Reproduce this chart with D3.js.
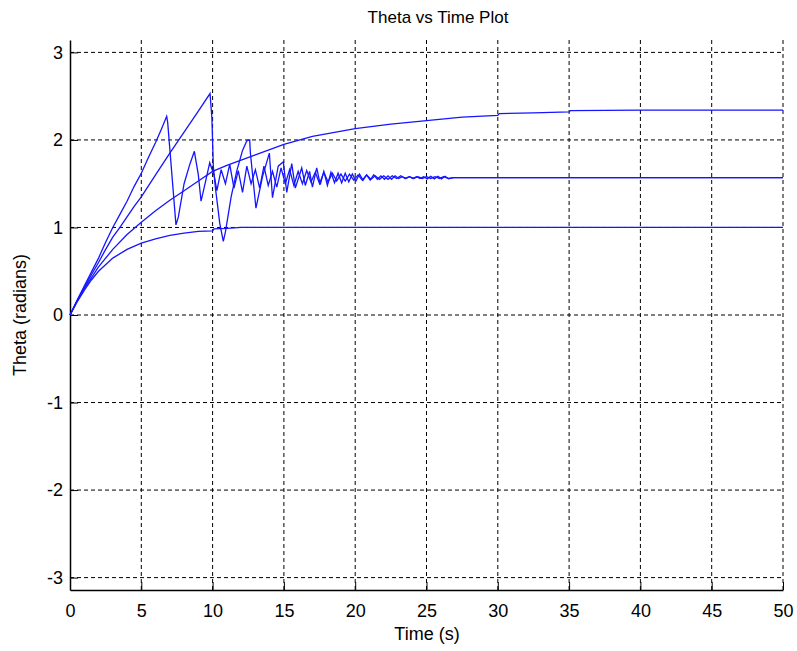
<!DOCTYPE html>
<html>
<head>
<meta charset="utf-8">
<script src="https://cdn.jsdelivr.net/npm/d3@7"></script>
<style>
  body { margin: 0; background: #fff; }
  svg { display: block; font-family: "Liberation Sans", Arial, sans-serif; }
  .grid line { stroke: #000; stroke-dasharray: 4,3; stroke-width: 1; }
  .axis path, .axis line { stroke: #000; }
  .axis text { font-size: 18px; fill: #000; }
  .curve { fill: none; stroke: #1515ff; stroke-width: 1.3; }
</style>
</head>
<body>
<div id="chart"></div>
<script>
// tick values
const xTicks = [0, 5, 10, 15, 20, 25, 30, 35, 40, 45, 50];
const yTicks = [-3, -2, -1, 0, 1, 2, 3];

// [time, theta] pairs
const settleToOne = [
  [0, 0], [0.5, 0.15], [1, 0.28], [1.5, 0.4], [2, 0.5], [3, 0.65], [4, 0.75], [5, 0.82],
  [6, 0.87], [7, 0.91], [8, 0.935], [9, 0.955], [10, 0.96], [10.1, 0.985], [11, 0.99],
  [12, 1.0], [50, 1.0]
];

const settleHigh = [
  [0, 0], [0.5, 0.16], [1, 0.3], [2, 0.55], [3, 0.75], [4, 0.92], [5, 1.06], [6, 1.19],
  [7, 1.31], [8, 1.42], [9, 1.53], [10, 1.64], [11, 1.71], [12, 1.77], [13, 1.83],
  [14, 1.89], [15, 1.95], [17, 2.04], [20, 2.13], [22.5, 2.18], [25, 2.22], [27.5, 2.26],
  [30, 2.28], [30.1, 2.3], [32.5, 2.31], [35, 2.32], [35.1, 2.335], [40, 2.34], [50, 2.34]
];

const swingA = [
  [0, 0], [0.5, 0.17], [1, 0.33], [1.5, 0.49], [2, 0.65], [2.5, 0.83], [3, 1.0], [3.5, 1.15],
  [4, 1.3], [4.5, 1.47], [5, 1.62], [5.5, 1.8], [6, 1.97], [6.4, 2.12], [6.78, 2.27],
  [6.85, 2.2], [7.43, 1.03], [7.6, 1.12], [8.0, 1.5], [8.4, 1.72], [8.72, 1.87], [9.0, 1.6],
  [9.19, 1.3], [9.5, 1.52], [9.8, 1.74], [10.1, 1.6], [10.3, 1.42], [10.6, 1.66], [10.9, 1.5],
  [11.2, 1.72], [11.5, 1.45], [11.8, 1.65], [12.1, 1.4], [12.4, 1.7], [12.7, 1.5], [13.0, 1.66],
  [13.3, 1.45], [13.6, 1.7], [13.9, 1.48], [14.2, 1.64], [14.5, 1.46], [14.8, 1.68], [15.1, 1.5],
  [15.4, 1.66], [15.7, 1.48], [16.0, 1.64], [16.3, 1.5], [16.6, 1.65], [16.9, 1.52], [17.2, 1.63],
  [17.5, 1.5], [17.8, 1.63], [18.1, 1.52], [18.4, 1.62], [18.7, 1.53], [19.0, 1.61], [19.3, 1.53],
  [19.6, 1.61], [19.9, 1.54], [20.2, 1.6], [20.5, 1.54], [20.8, 1.6], [21.1, 1.55], [21.4, 1.59],
  [21.7, 1.55], [22.0, 1.59], [22.3, 1.55], [22.6, 1.59], [22.9, 1.56], [23.2, 1.59], [23.5, 1.56],
  [23.8, 1.58], [24.1, 1.56], [24.4, 1.58], [24.7, 1.56], [25.0, 1.58], [25.3, 1.56], [25.6, 1.58],
  [25.9, 1.56], [26.2, 1.58], [26.5, 1.56], [26.9, 1.57], [50, 1.57]
];

const swingB = [
  [0, 0], [0.5, 0.16], [1, 0.31], [1.5, 0.46], [2, 0.6], [2.5, 0.75], [3, 0.89], [3.5, 1.0],
  [4, 1.12], [4.5, 1.24], [5, 1.35], [6, 1.6], [7, 1.85], [8, 2.09], [9, 2.33], [9.82, 2.53],
  [9.95, 2.25], [10.05, 1.7], [10.2, 1.45], [10.5, 1.05], [10.75, 0.84], [10.9, 0.95],
  [11.3, 1.35], [11.7, 1.65], [12.1, 1.88], [12.4, 1.99], [12.6, 2.0], [12.65, 1.85],
  [13.04, 1.22], [13.5, 1.58], [13.98, 1.85], [14.2, 1.34], [14.6, 1.7], [14.96, 1.75],
  [15.2, 1.4], [15.55, 1.73], [15.8, 1.45], [16.25, 1.68], [16.5, 1.48], [16.8, 1.64],
  [17.0, 1.46], [17.3, 1.68], [17.55, 1.49], [17.8, 1.64], [18.05, 1.48], [18.3, 1.63],
  [18.55, 1.51], [18.8, 1.62], [19.05, 1.51], [19.3, 1.62], [19.55, 1.52], [19.8, 1.61],
  [20.05, 1.53], [20.3, 1.61], [20.55, 1.54], [20.8, 1.6], [21.05, 1.54], [21.3, 1.6],
  [21.55, 1.55], [21.8, 1.59], [22.05, 1.55], [22.3, 1.59], [22.55, 1.55], [22.8, 1.59],
  [23.05, 1.56], [23.3, 1.58], [23.55, 1.56], [23.8, 1.58], [24.05, 1.56], [24.3, 1.58],
  [24.55, 1.56], [24.8, 1.58], [25.05, 1.555], [25.3, 1.585], [25.55, 1.555], [25.8, 1.585],
  [26.05, 1.555], [26.3, 1.585], [26.55, 1.555], [26.9, 1.57], [50, 1.57]
];

const series = [settleToOne, settleHigh, swingA, swingB];

const width = 797, height = 651;
const margin = { top: 40, right: 14, bottom: 61, left: 70 };

const svg = d3.select("#chart").append("svg")
  .attr("width", width)
  .attr("height", height);

const x = d3.scaleLinear().domain([0, 50]).range([margin.left, width - margin.right]);
const y = d3.scaleLinear().domain([-Math.PI, Math.PI]).range([height - margin.bottom, margin.top]);

// dashed grid
svg.append("g").attr("class", "grid")
  .selectAll("line.v").data(xTicks.filter(d => d > 0)).enter().append("line")
  .attr("x1", d => x(d)).attr("x2", d => x(d))
  .attr("y1", y.range()[0]).attr("y2", y.range()[1]);

svg.append("g").attr("class", "grid")
  .selectAll("line.h").data(yTicks).enter().append("line")
  .attr("x1", x.range()[0]).attr("x2", x.range()[1])
  .attr("y1", d => y(d)).attr("y2", d => y(d));

// axes, ticks pointing inward
svg.append("g").attr("class", "axis")
  .attr("transform", `translate(0,${y.range()[0]})`)
  .call(d3.axisBottom(x).tickValues(xTicks).tickSizeInner(-8).tickSizeOuter(0).tickPadding(14));

svg.append("g").attr("class", "axis")
  .attr("transform", `translate(${x.range()[0]},0)`)
  .call(d3.axisLeft(y).tickValues(yTicks).tickSizeInner(-8).tickSizeOuter(0).tickPadding(7)
    .tickFormat(d => String(d)));

svg.selectAll(".axis path").attr("stroke-width", 1.5);

// curves
const line = d3.line().x(d => x(d[0])).y(d => y(d[1]));
svg.selectAll("path.curve").data(series).enter().append("path")
  .attr("class", "curve")
  .attr("d", line);

// labels
svg.append("text")
  .attr("x", 438).attr("y", 23)
  .attr("text-anchor", "middle")
  .style("font-size", "17px")
  .text("Theta vs Time Plot");

svg.append("text")
  .attr("x", 427).attr("y", 640)
  .attr("text-anchor", "middle")
  .style("font-size", "18px")
  .text("Time (s)");

svg.append("text")
  .attr("transform", `translate(26,${y(0)}) rotate(-90)`)
  .attr("text-anchor", "middle")
  .style("font-size", "18px")
  .text("Theta (radians)");
</script>
</body>
</html>
